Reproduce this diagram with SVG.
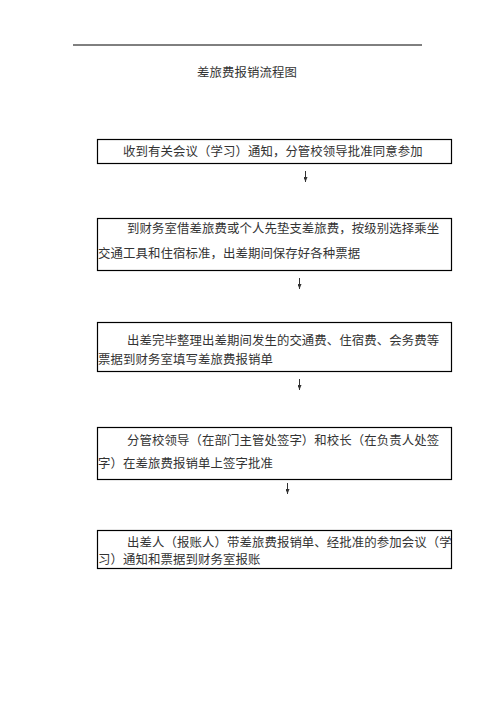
<svg xmlns="http://www.w3.org/2000/svg" width="496" height="702" viewBox="0 0 496 702">
<defs>
<style>
.t{font-family:"Noto Sans CJK SC","Noto Sans CJK JP",sans-serif;font-size:12.4px;fill:#333;letter-spacing:0.1px}
.b{fill:#fff;stroke:#000;stroke-width:1.2}
.c{stroke:#333;stroke-width:1;fill:none}
</style>
<marker id="ah" markerWidth="5" markerHeight="4" refX="5" refY="2" orient="auto" markerUnits="userSpaceOnUse"><path d="M0,0 L5,2 L0,4 Z" fill="#333"/></marker>
</defs>
<rect width="496" height="702" fill="#fff"/>
<line x1="73" y1="45" x2="422" y2="45" stroke="#000" stroke-width="1"/>
<text class="t" x="247" y="77" text-anchor="middle">差旅费报销流程图</text>
<g id="n1"><rect class="b" x="97.5" y="139.5" width="354" height="24"/><text class="t" x="123" y="156">收到有关会议（学习）通知，分管校领导批准同意参加</text></g>
<g id="n2"><rect class="b" x="97.5" y="218.5" width="354" height="52"/><text class="t" x="127" y="233">到财务室借差旅费或个人先垫支差旅费，按级别选择乘坐</text><text class="t" x="98" y="258">交通工具和住宿标准，出差期间保存好各种票据</text></g>
<g id="n3"><rect class="b" x="97.5" y="322.5" width="354" height="49"/><text class="t" x="127" y="345">出差完毕整理出差期间发生的交通费、住宿费、会务费等</text><text class="t" x="98" y="364">票据到财务室填写差旅费报销单</text></g>
<g id="n4"><rect class="b" x="97.5" y="427.5" width="354" height="52"/><text class="t" x="127" y="445">分管校领导（在部门主管处签字）和校长（在负责人处签</text><text class="t" x="98" y="468">字）在差旅费报销单上签字批准</text></g>
<g id="n5"><rect class="b" x="97.5" y="530.5" width="354" height="38"/><text class="t" x="127" y="547">出差人（报账人）带差旅费报销单、经批准的参加会议（学</text><text class="t" x="98" y="564">习）通知和票据到财务室报账</text></g>
<g id="connectors">
<line class="c" x1="305.5" y1="171" x2="305.5" y2="182" marker-end="url(#ah)"/>
<line class="c" x1="299.5" y1="278" x2="299.5" y2="289" marker-end="url(#ah)"/>
<line class="c" x1="299.5" y1="379" x2="299.5" y2="390" marker-end="url(#ah)"/>
<line class="c" x1="287.5" y1="483" x2="287.5" y2="494" marker-end="url(#ah)"/>
</g>
</svg>
